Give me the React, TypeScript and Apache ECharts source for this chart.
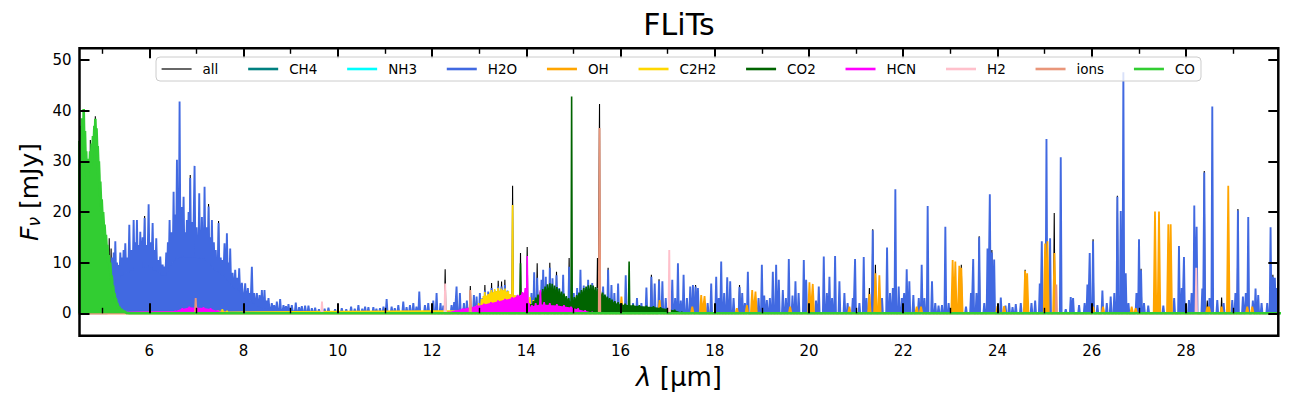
import React, { useEffect, useRef } from "react";
import * as echarts from "echarts";

// A spectral line: [wavelength (µm), peak flux (mJy), optional pseudo-continuum floor (mJy)]
type SpecLine = number[];

const LAMBDA_MIN = 4.519;
const LAMBDA_MAX = 29.96;
const FLUX_MIN = -4.42;
const FLUX_MAX = 52.31;

const MAJOR_TICKS = [6, 8, 10, 12, 14, 16, 18, 20, 22, 24, 26, 28];
const MINOR_TICKS = [5, 7, 9, 11, 13, 15, 17, 19, 21, 23, 25, 27, 29];
const FLUX_TICKS = [0, 10, 20, 30, 40, 50];

const FONT = "DejaVu Sans";

// Total model spectrum where it rises above the individual species
const TOTAL_TIPS: SpecLine[] = [
  [4.749, 34.2], [4.855, 38.9], [5.15, 14.8], [5.19, 12.8], [5.901, 19.2],
  [6.869, 27.3], [7.258, 21.6], [7.47, 18.2], [12.279, 8.7], [12.813, 5.4],
  [13.122, 5.6], [13.264, 6], [13.405, 6.4], [13.476, 6.3], [13.546, 6.6],
  [13.71, 25.2], [13.878, 11.9], [14.02, 13.1], [14.232, 9.9], [14.5, 10],
  [14.642, 8.2], [14.91, 10.9], [15.511, 10.9], [15.555, 41.3], [15.737, 9],
  [16.656, 7.6], [16.818, 6.7], [17.593, 5.6], [18.526, 5.6], [21.282, 5],
  [21.353, 16.6], [21.41, 9.6], [23.233, 9.6], [23.612, 15.2], [23.881, 12.5],
  [24.587, 8.6], [25.205, 19.8], [26.029, 14.6], [26.545, 23.2], [27.047, 8.8],
  [28.389, 28.1], [28.453, 2.5], [28.757, 3.1], [29.103, 20.6], [29.845, 7.6],
];

const CH4_LINES: SpecLine[] = [];
const NH3_LINES: SpecLine[] = [];

const H2O_LINES: SpecLine[] = [
  [5.13, 6, 0], [5.17, 9, 3], [5.21, 11, 5], [5.245, 12, 6], [5.279, 14.2, 7],
  [5.315, 10, 7], [5.35, 9.5, 7], [5.385, 12, 7.5], [5.42, 11, 7.5], [5.455, 12.5, 8],
  [5.491, 13.8, 8], [5.533, 11, 8], [5.576, 17.5, 8.5], [5.618, 12.5, 8.5], [5.668, 18.4, 9],
  [5.703, 14, 9], [5.738, 18.4, 9], [5.774, 13.5, 9], [5.809, 16.1, 9], [5.859, 15, 9],
  [5.901, 18.8, 9], [5.943, 13.5, 9], [5.986, 21.5, 9], [6.028, 14, 9], [6.071, 17.8, 9],
  [6.113, 12.5, 8.5], [6.148, 14.8, 8.5], [6.191, 10.5, 8], [6.233, 11.2, 8], [6.283, 9.6, 7.5],
  [6.325, 9.2, 7.5], [6.36, 12, 8], [6.395, 14, 9], [6.431, 18.4, 9.5], [6.468, 16, 10],
  [6.516, 24, 10.5], [6.551, 19.5, 11], [6.587, 30.3, 11], [6.643, 41.8, 11], [6.685, 21, 11],
  [6.728, 23, 11], [6.763, 16, 11], [6.798, 18.4, 11], [6.834, 20, 11], [6.869, 26.7, 11],
  [6.911, 18, 11], [6.961, 29.1, 11], [7.003, 17, 11], [7.06, 23.7, 11], [7.117, 19, 11],
  [7.173, 25, 11], [7.216, 17, 10.5], [7.258, 21.1, 10], [7.293, 15, 10], [7.329, 18.4, 9.5],
  [7.37, 14, 9], [7.41, 12.5, 8.5], [7.47, 17.8, 8.5], [7.515, 11, 8], [7.555, 10.5, 7.5],
  [7.597, 13.8, 7.5], [7.647, 15.8, 7], [7.685, 10, 6.5], [7.717, 12.8, 6], [7.767, 8, 5.5],
  [7.823, 8.6, 5], [7.866, 7, 5], [7.908, 8.9, 4.5], [7.965, 6, 4], [8.035, 5.9, 3],
  [8.092, 5, 3], [8.135, 4, 2.5], [8.177, 9.2, 2.5], [8.226, 4, 2], [8.283, 4, 1.5],
  [8.339, 3.6, 1.5], [8.389, 4.6, 1.2], [8.445, 4.6, 1], [8.49, 2.5, 1], [8.53, 3, 1],
  [8.6, 2, 0.8], [8.65, 1.6, 0.7], [8.707, 2.3, 0.6], [8.777, 2.8, 0.6], [8.848, 1.6, 0.5],
  [8.9, 1.4, 0.5], [8.954, 1.8, 0.5], [9.025, 1.6, 0.4], [9.109, 2.1, 0.4], [9.18, 1.2, 0.3],
  [9.237, 1.4, 0.3], [9.307, 1.5, 0.3], [9.378, 1.5, 0.3], [9.45, 1, 0.2], [9.52, 1.1, 0.2],
  [9.6, 0.8, 0.2], [9.72, 0.9, 0.2], [9.802, 1.1, 0.2], [9.943, 0.8, 0.2], [10.085, 1, 0.2],
  [10.18, 0.8, 0.2], [10.283, 1.3, 0.2], [10.36, 0.9, 0.2], [10.438, 1.6, 0.2], [10.52, 0.9, 0.2],
  [10.58, 1.3, 0.2], [10.65, 1.2, 0.2], [10.755, 1.2, 0.2], [10.82, 0.9, 0.2], [10.896, 1, 0.2],
  [10.97, 1.3, 0.2], [11.037, 2.8, 0.2], [11.143, 1.3, 0.2], [11.21, 1, 0.2], [11.285, 1.6, 0.2],
  [11.39, 2.3, 0.2], [11.46, 1.2, 0.2], [11.532, 1.6, 0.2], [11.603, 2, 0.2], [11.67, 1.3, 0.2],
  [11.73, 4.3, 0.2], [11.85, 1.6, 0.2], [11.92, 2, 0.2], [12.027, 2.5], [12.097, 4],
  [12.18, 2], [12.24, 1.5], [12.415, 1.6], [12.47, 2.2], [12.521, 5.3],
  [12.592, 4], [12.677, 2], [12.74, 2.5], [12.889, 3.6], [12.946, 3.3],
  [13.016, 4], [13.07, 3], [13.122, 4.5], [13.193, 4.3], [13.264, 5],
  [13.334, 4.5], [13.405, 5.3], [13.476, 5.3], [13.546, 5.6], [13.6, 4.5],
  [13.8, 3.5], [14.111, 4], [14.168, 8.1], [14.232, 7], [14.324, 6.6],
  [14.359, 8.6], [14.415, 7.2], [14.5, 9], [14.557, 6.9], [14.642, 7.5],
  [14.7, 5], [14.783, 7.6], [14.91, 9.2], [15.009, 4], [15.08, 5],
  [15.15, 8.6], [15.22, 5.5], [15.313, 6.6], [15.4, 6], [15.511, 5],
  [15.631, 5.3], [15.737, 8.6], [15.808, 5.6], [15.87, 4], [15.949, 5.9],
  [16.111, 7.5], [16.267, 2], [16.35, 3], [16.444, 2], [16.55, 5.1],
  [16.656, 7.2], [16.726, 5.9], [16.818, 6.4], [16.889, 6.3], [16.96, 3],
  [17.099, 6.6], [17.16, 3], [17.219, 9.9], [17.28, 2.5], [17.339, 7.6],
  [17.41, 3], [17.48, 5.3], [17.537, 5.6], [17.593, 5.3], [17.643, 5],
  [17.85, 2], [17.925, 5.9], [18.031, 7.2], [18.085, 3], [18.137, 10.2],
  [18.2, 4], [18.265, 7.1], [18.328, 6.3], [18.4, 3], [18.526, 5.2],
  [18.583, 4], [18.64, 2], [18.703, 8.2], [18.93, 3], [19.0, 9.6],
  [19.05, 3.5], [19.106, 2.6], [19.17, 3], [19.233, 8.2], [19.303, 9.6],
  [19.36, 6.6], [19.445, 4.6], [19.51, 3], [19.572, 10.7], [19.65, 3.5],
  [19.713, 6.3], [19.78, 4], [19.89, 10.5], [19.94, 6.6], [20.15, 2.5],
  [20.208, 5.3], [20.314, 11.2], [20.38, 4], [20.434, 7.2], [20.49, 3],
  [20.554, 11.3], [20.646, 6.3], [20.752, 4], [20.82, 2], [20.93, 3],
  [20.978, 10.7], [21.07, 2], [21.162, 11.1], [21.22, 3], [21.353, 16.4],
  [21.55, 3], [21.657, 13], [21.72, 4], [21.78, 5], [21.833, 24.5],
  [21.904, 5.3], [21.97, 3], [22.02, 4], [22.074, 8.7], [22.13, 6.3],
  [22.215, 3.6], [22.33, 3], [22.392, 9.6], [22.45, 3], [22.519, 21.2],
  [22.611, 6.3], [22.68, 2], [22.75, 1.5], [22.823, 1.6], [22.894, 17.1],
  [22.964, 2], [23.332, 1.3], [23.438, 4], [23.485, 10.7], [23.555, 4],
  [23.612, 15], [23.72, 2], [23.789, 12.8], [23.838, 23.5], [23.881, 12],
  [23.93, 10.6], [24.071, 3.1], [24.17, 1.5], [24.248, 2], [24.32, 1.2],
  [24.389, 1.8], [24.495, 2], [24.722, 2], [24.8, 2.5], [24.898, 5.9],
  [24.941, 14.2], [25.04, 34.4], [25.117, 14.8], [25.343, 30.8], [25.449, 0.8],
  [25.555, 3.2], [25.605, 3], [25.732, 1.6], [25.85, 2], [25.909, 5.7],
  [25.958, 11.9], [26.029, 14.2], [26.121, 1.6], [26.227, 4.5], [26.32, 2],
  [26.403, 3.3], [26.48, 4], [26.545, 23], [26.616, 20.2], [26.672, 47.6],
  [26.722, 7.9], [26.78, 2], [26.95, 4], [27.004, 14.6], [27.047, 8.5],
  [27.11, 2], [27.2, 1.5], [27.52, 1.5], [27.75, 3], [27.852, 13.3],
  [27.91, 5], [27.958, 11.1], [28.064, 2.6], [28.12, 4], [28.177, 21.3],
  [28.227, 17.1], [28.347, 4.9], [28.389, 27.8], [28.5, 3], [28.559, 40.8],
  [28.665, 2.6], [28.8, 2], [28.983, 2.6], [29.05, 4], [29.103, 20.3],
  [29.209, 3.3], [29.27, 4], [29.322, 19], [29.42, 2.5], [29.477, 4.9],
  [29.534, 3.6], [29.605, 2], [29.725, 2], [29.796, 17], [29.845, 7.2],
  [29.887, 7], [29.93, 5],
];

const OH_LINES: SpecLine[] = [
  [16.02, 3.3], [16.83, 2.6], [17.523, 1.3], [17.713, 3.6], [17.784, 3.4],
  [18.47, 1], [18.682, 1.6], [18.795, 4.6], [18.865, 4.3], [19.6, 1.3],
  [20.01, 6.1], [20.08, 5.8], [20.858, 1.3], [21.282, 3.8], [21.41, 7.9],
  [21.494, 7.5], [22.286, 1.3], [22.378, 1.3], [23.049, 10.5], [23.106, 10.2],
  [23.19, 9.4], [23.233, 9], [24.0, 1.4], [24.142, 1.4], [24.587, 8.4],
  [24.63, 7.9], [25.011, 13.8], [25.061, 14.2], [25.209, 11.9], [26.029, 1.3],
  [26.241, 1.3], [26.849, 1.3], [26.934, 1], [27.343, 20.1], [27.428, 20.1],
  [27.626, 17.6], [27.676, 17.6], [28.453, 1.3], [28.489, 1.3], [28.757, 1.3],
  [28.898, 25.2], [29.301, 1.3], [29.407, 1.3],
];

const C2H2_LINES: SpecLine[] = [
  [7.45, 0.6, 0.3], [7.55, 0.8, 0.4], [7.65, 0.5, 0.2],
  [12.85, 0.8, 0.5], [12.92, 1.3, 0.8], [12.99, 2, 1.1], [13.05, 2.8, 1.4], [13.09, 3.4, 1.7],
  [13.12, 4.2, 2], [13.16, 3.5, 2.1], [13.19, 3.8, 2.2], [13.23, 4.1, 2.3], [13.26, 4.6, 2.4],
  [13.3, 4.2, 2.5], [13.33, 4.8, 2.6], [13.37, 4.4, 2.7], [13.4, 5, 2.8], [13.44, 4.5, 2.9],
  [13.47, 4.9, 2.9], [13.51, 4.6, 3], [13.55, 4.9, 3], [13.59, 4.3, 3], [13.62, 4.4, 3],
  [13.66, 3.8, 2.9], [13.71, 21.4, 2.8], [13.76, 3.6, 2.4], [13.8, 3.3, 2.2], [13.85, 3.2, 2],
  [13.93, 3.6, 1.8], [14.0, 3.3, 1.5], [14.08, 3.2, 1.2], [14.15, 2.6, 0.8], [14.25, 1.2, 0.4],
  [14.35, 0.5, 0],
];

const CO2_LINES: SpecLine[] = [
  [13.878, 9.9, 0], [13.95, 0.5, 0.2], [14.0, 0.9, 0.5], [14.05, 1.3, 0.9], [14.1, 1.8, 1.3],
  [14.15, 2.4, 1.8], [14.2, 3.1, 2.3], [14.25, 3.7, 2.8], [14.3, 4.3, 3.3], [14.35, 4.8, 3.7],
  [14.4, 5.3, 4], [14.45, 5.7, 4.3], [14.5, 5.9, 4.5], [14.55, 5.8, 4.4], [14.6, 5.5, 4.2],
  [14.65, 5.2, 4], [14.7, 4.8, 3.6], [14.75, 4.3, 3.3], [14.8, 3.9, 3], [14.85, 3.4, 2.6],
  [14.9, 3, 2.3], [14.963, 42.8, 2], [15.02, 3.2, 2.4], [15.07, 3.6, 2.8], [15.12, 4.1, 3.2],
  [15.17, 4.6, 3.6], [15.22, 5, 3.9], [15.27, 5.3, 4.1], [15.32, 5.5, 4.3], [15.37, 5.6, 4.3],
  [15.42, 5.5, 4.2], [15.47, 5.2, 4], [15.52, 4.9, 3.8], [15.57, 4.5, 3.5], [15.62, 4.1, 3.2],
  [15.67, 3.7, 2.9], [15.72, 3.3, 2.6], [15.77, 3, 2.3], [15.82, 2.7, 2.1], [15.88, 2.4, 1.9],
  [15.95, 2.2, 1.7], [16.02, 2, 1.6], [16.1, 1.9, 1.5], [16.183, 10.2, 1.5], [16.27, 1.7, 1.4],
  [16.4, 1.6, 1.3], [16.55, 1.5, 1.2], [16.7, 1.4, 1.1], [16.85, 1.2, 0.9], [17.0, 1, 0.7],
  [17.15, 0.7, 0.4], [17.3, 0.3, 0],
];

const HCN_LINES: SpecLine[] = [
  [6.55, 0.5, 0.3], [6.7, 1, 0.7], [6.85, 1.3, 1], [7.0, 1.3, 1], [7.15, 1.2, 0.9],
  [7.3, 1, 0.7], [7.45, 0.6, 0.3], [7.6, 0.3, 0],
  [12.35, 0.3, 0.1], [12.5, 0.6, 0.4], [12.65, 0.9, 0.7], [12.8, 1.2, 1], [12.95, 1.6, 1.3],
  [13.1, 1.9, 1.6], [13.25, 2.2, 1.9], [13.4, 2.5, 2.2], [13.55, 2.8, 2.5], [13.7, 3.2, 2.8],
  [13.82, 3.6, 3.2], [13.92, 4.2, 3.6], [13.98, 5, 4], [14.02, 11.3, 3], [14.06, 2, 1],
  [14.12, 1.6, 1.2], [14.2, 2, 1.4], [14.3, 4.6, 1.6], [14.38, 2.2, 1.6], [14.5, 2, 1.5],
  [14.65, 1.8, 1.4], [14.8, 1.6, 1.2], [14.95, 1.3, 1], [15.1, 1, 0.6], [15.25, 0.6, 0.3],
  [15.4, 0.3, 0],
];

const H2_LINES: SpecLine[] = [[9.665, 2.3], [12.279, 5.9], [17.035, 12.5], [28.219, 9]];

const ION_LINES: SpecLine[] = [[6.985, 3], [12.813, 4.6], [15.555, 36.6], [25.249, 5.7]];

const CO_LINES: SpecLine[] = [
  [4.5, 34, 30], [4.545, 37, 31], [4.572, 38.5, 33], [4.608, 40.3, 34], [4.635, 36, 31],
  [4.66, 32, 28], [4.685, 29.5, 27], [4.714, 30.5, 28], [4.745, 32, 29], [4.775, 33.5, 30],
  [4.805, 35, 32], [4.835, 37, 34], [4.855, 38.4, 35], [4.88, 36.5, 33], [4.905, 33, 30],
  [4.93, 30, 27], [4.96, 26, 23], [4.99, 22.5, 20], [5.02, 20, 18], [5.05, 17.5, 15.5],
  [5.08, 15.5, 13.5], [5.11, 13.5, 12], [5.14, 11.5, 10], [5.17, 10, 8.5], [5.2, 7.5, 6.5],
  [5.23, 5.5, 4.5], [5.26, 4, 3.3], [5.29, 3, 2.3], [5.32, 2, 1.6], [5.36, 1.3, 1],
  [5.41, 0.8, 0.6], [5.47, 0.5, 0.3], [5.55, 0.2, 0],
];

const SPECIES = [
  { name: "CH4", color: "#008080", lines: CH4_LINES, halfWidth: 0.015, width: 1.6 },
  { name: "NH3", color: "#00ffff", lines: NH3_LINES, halfWidth: 0.015, width: 1.6 },
  { name: "H2O", color: "#4169e1", lines: H2O_LINES, halfWidth: 0.018, width: 1.9 },
  { name: "OH", color: "#ffa500", lines: OH_LINES, halfWidth: 0.028, width: 1.8 },
  { name: "C2H2", color: "#ffd700", lines: C2H2_LINES, halfWidth: 0.012, width: 1.6 },
  { name: "CO2", color: "#006400", lines: CO2_LINES, halfWidth: 0.012, width: 1.6 },
  { name: "HCN", color: "#ff00ff", lines: HCN_LINES, halfWidth: 0.012, width: 1.6 },
  { name: "H2", color: "#ffc0cb", lines: H2_LINES, halfWidth: 0.015, width: 1.9 },
  { name: "ions", color: "#e9967a", lines: ION_LINES, halfWidth: 0.015, width: 1.9 },
  { name: "CO", color: "#32cd32", lines: CO_LINES, halfWidth: 0.012, width: 2.6 },
];

// Turns a line list into a polyline of narrow emission profiles sitting on
// their pseudo-continuum floor.
function lineProfile(lines: SpecLine[], halfWidth: number): number[][] {
  const sorted = lines.slice().sort((a, b) => a[0] - b[0]);
  const pts: number[][] = [[LAMBDA_MIN - 0.3, 0]];
  let prevLam = -Infinity;
  for (const ln of sorted) {
    const lam = ln[0];
    const peak = ln[1];
    const base = ln.length > 2 ? ln[2] : 0;
    const left = lam - halfWidth;
    const last = pts[pts.length - 1];
    if (left <= last[0]) {
      last[0] = (prevLam + lam) / 2;
      last[1] = Math.min(last[1], base);
    } else {
      pts.push([left, base]);
    }
    pts.push([lam, peak]);
    pts.push([lam + halfWidth, base]);
    prevLam = lam;
  }
  pts.push([LAMBDA_MAX + 0.3, 0]);
  return pts;
}

function tickAxis(position: string, ticks: number[], length: number, width: number, labels: boolean, min: number, max: number) {
  return {
    type: "value",
    position,
    min,
    max,
    z: 40,
    axisLine: { show: false },
    splitLine: { show: false },
    axisTick: {
      show: true,
      inside: true,
      length,
      lineStyle: { color: "#000", width },
      customValues: ticks,
    },
    axisLabel: labels
      ? { show: true, customValues: ticks, color: "#000", fontSize: 15, fontFamily: FONT, margin: 8 }
      : { show: false },
  };
}

export default function App() {
  const ref = useRef<HTMLDivElement>(null);

  useEffect(() => {
    if (!ref.current) return;
    const chart = echarts.init(ref.current, undefined, { renderer: "svg" });

    // Each series gets its own z so later species are painted over earlier ones
    const series: any[] = [
      {
        name: "all",
        type: "line",
        z: 2,
        data: lineProfile(TOTAL_TIPS, 0.015),
        symbol: "none",
        silent: true,
        lineStyle: { color: "#000", width: 1.1 },
        itemStyle: { color: "#000" },
      },
      ...SPECIES.map((sp, i) => ({
        name: sp.name,
        type: "line",
        z: 3 + i,
        data: lineProfile(sp.lines, sp.halfWidth),
        symbol: "none",
        silent: true,
        lineStyle: { color: sp.color, width: sp.width },
        itemStyle: { color: sp.color },
        areaStyle: { color: sp.color, opacity: 1 },
      })),
    ];

    const legendData = [
      { name: "all", lineStyle: { width: 1.2 } },
      ...SPECIES.map((sp) => ({ name: sp.name, lineStyle: { width: 2.6 } })),
    ];

    chart.setOption({
      animation: false,
      textStyle: { fontFamily: FONT },
      grid: {
        left: 79.5,
        right: 10.7,
        top: 48.3,
        bottom: 67.3,
        show: true,
        borderColor: "#000",
        borderWidth: 2.5,
        backgroundColor: "transparent",
        z: 40,
      },
      xAxis: [
        tickAxis("bottom", MAJOR_TICKS, 10, 2, true, LAMBDA_MIN, LAMBDA_MAX),
        tickAxis("bottom", MINOR_TICKS, 5.5, 1.4, false, LAMBDA_MIN, LAMBDA_MAX),
        tickAxis("top", MAJOR_TICKS, 10, 2, false, LAMBDA_MIN, LAMBDA_MAX),
        tickAxis("top", MINOR_TICKS, 5.5, 1.4, false, LAMBDA_MIN, LAMBDA_MAX),
      ],
      yAxis: [
        tickAxis("left", FLUX_TICKS, 10, 2, true, FLUX_MIN, FLUX_MAX),
        tickAxis("right", FLUX_TICKS, 10, 2, false, FLUX_MIN, FLUX_MAX),
      ],
      legend: {
        z: 50,
        left: 156,
        top: 57,
        padding: [5, 6, 5, 5],
        itemGap: 28.5,
        itemWidth: 30,
        itemHeight: 14,
        selectedMode: false,
        backgroundColor: "rgba(255,255,255,0.8)",
        borderColor: "#cccccc",
        borderWidth: 1,
        borderRadius: 4,
        itemStyle: { opacity: 0 },
        lineStyle: { width: "inherit" },
        textStyle: { color: "#000", fontSize: 13.5, fontFamily: FONT, padding: [0, 0, 0, 6] },
        data: legendData,
      },
      graphic: [
        {
          type: "text",
          x: 679,
          y: 24.5,
          style: {
            text: "FLiTs",
            fontSize: 30,
            fontFamily: FONT,
            fill: "#000",
            align: "center",
            verticalAlign: "middle",
          },
        },
        {
          type: "text",
          x: 679,
          y: 377,
          style: {
            text: "{l|λ}{n| [µm]}",
            align: "center",
            verticalAlign: "middle",
            fill: "#000",
            rich: {
              l: { fontSize: 26, fontFamily: FONT, fontStyle: "italic", fill: "#000" },
              n: { fontSize: 26, fontFamily: FONT, fill: "#000" },
            },
          },
        },
        {
          type: "text",
          x: 29.5,
          y: 192,
          rotation: Math.PI / 2,
          style: {
            text: "{f|F}{s|ν}{n| [mJy]}",
            align: "center",
            verticalAlign: "middle",
            fill: "#000",
            rich: {
              f: { fontSize: 25, fontFamily: FONT, fontStyle: "italic", fill: "#000", lineHeight: 25 },
              s: { fontSize: 17, fontFamily: FONT, fontStyle: "italic", fill: "#000", lineHeight: 10, verticalAlign: "bottom" },
              n: { fontSize: 25, fontFamily: FONT, fill: "#000", lineHeight: 25 },
            },
          },
        },
      ],
      series,
    });

    return () => chart.dispose();
  }, []);

  return (
    <div
      ref={ref}
      style={{ position: "absolute", left: 0, top: 0, width: 1289, height: 403 }}
    />
  );
}
